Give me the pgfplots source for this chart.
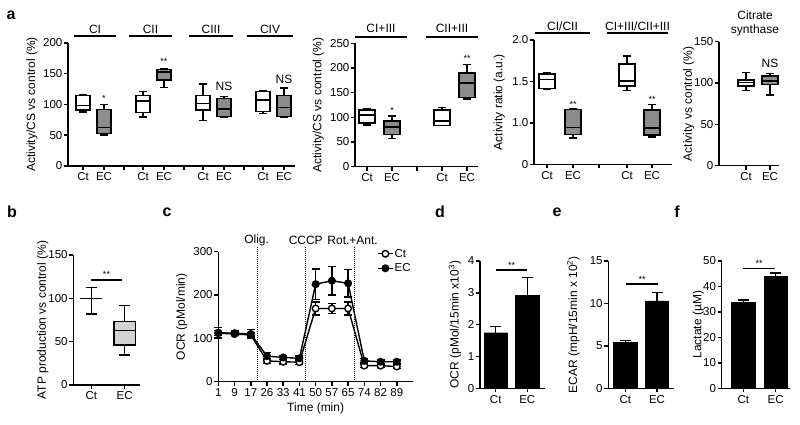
\documentclass[border=0pt]{standalone}
\usepackage{fontspec}
\setmainfont{Liberation Sans}
\usepackage{pgfplots}
\pgfplotsset{compat=1.18}
\usepgfplotslibrary{statistics}
\definecolor{boxgrey}{HTML}{8C8C8C}
\definecolor{boxlight}{HTML}{D2D2D2}
\newcommand{\tk}{\fontsize{11.5}{12}\selectfont}
\newcommand{\hd}{\fontsize{12}{13}\selectfont}
\newcommand{\lb}{\fontsize{12}{13}\selectfont}
\newcommand{\st}{\fontsize{9}{9}\selectfont}
\pgfplotsset{
  gp/.style={
    scale only axis, clip=false, anchor=south west,
    axis x line*=bottom, axis y line*=left,
    axis line style={line width=1.5pt,-},
    every tick/.style={line width=1.5pt,black},
    tick align=outside, major tick length=4pt,
    tick label style={font=\tk},
    yticklabel style={inner sep=1.5pt},
    xticklabel style={inner sep=2.5pt},
    label style={font=\lb},
    /pgf/number format/assume math mode=true,
    boxplot/draw direction=y,
  },
  yl/.style={ylabel style={at={(axis description cs:#1,0.5)},anchor=center}},
  bxw/.style={draw=black, fill=white, line width=1.5pt, solid},
  bxg/.style={draw=black, fill=boxgrey, line width=1.5pt, solid},
  bxl/.style={draw=black, fill=boxlight, line width=1.5pt, solid},
}
\begin{document}
\begin{tikzpicture}
\path[use as bounding box] (0,0) rectangle (800pt,425pt);

% ---------- a1 ----------
\begin{axis}[gp, at={(68pt,259pt)}, width=227pt, height=123pt,
  xmin=0, xmax=227, ymin=0, ymax=200, ytick={0,50,100,150,200},
  xtick={15,36,75,96,135,156,195,216}, xticklabels={Ct,EC,Ct,EC,Ct,EC,Ct,EC},
  extra x ticks={56,116,176}, extra x tick labels={},
  ylabel={Activity/CS vs control (\%)}, yl=-0.1586]
\addplot[bxw, boxplot prepared={draw position=15, lower whisker=88, lower quartile=91, median=98, upper quartile=115, upper whisker=116, box extend=14, whisker extend=8}] coordinates {};
\addplot[bxg, boxplot prepared={draw position=36, lower whisker=50, lower quartile=53, median=63, upper quartile=92, upper whisker=100, box extend=14, whisker extend=8}] coordinates {};
\addplot[bxw, boxplot prepared={draw position=75, lower whisker=80, lower quartile=87, median=106, upper quartile=115, upper whisker=121, box extend=14, whisker extend=8}] coordinates {};
\addplot[bxg, boxplot prepared={draw position=96, lower whisker=128, lower quartile=140, median=153, upper quartile=157, upper whisker=158, box extend=14, whisker extend=8}] coordinates {};
\addplot[bxw, boxplot prepared={draw position=135, lower whisker=74, lower quartile=91, median=102, upper quartile=115, upper whisker=133, box extend=14, whisker extend=8}] coordinates {};
\addplot[bxg, boxplot prepared={draw position=156, lower whisker=80, lower quartile=80.5, median=93, upper quartile=110, upper whisker=113, box extend=14, whisker extend=8}] coordinates {};
\addplot[bxw, boxplot prepared={draw position=195, lower whisker=85, lower quartile=89, median=107, upper quartile=121, upper whisker=122, box extend=14, whisker extend=8}] coordinates {};
\addplot[bxg, boxplot prepared={draw position=216, lower whisker=80, lower quartile=80.5, median=95, upper quartile=115, upper whisker=127, box extend=14, whisker extend=8}] coordinates {};
\draw[line width=1.7pt] (axis cs:6,211.4) -- (axis cs:48,211.4);
\draw[line width=1.7pt] (axis cs:61,211.4) -- (axis cs:104,211.4);
\draw[line width=1.7pt] (axis cs:121,211.4) -- (axis cs:165,211.4);
\draw[line width=1.7pt] (axis cs:179,211.4) -- (axis cs:225,211.4);
\node[font=\hd] at (axis cs:27,221.5) {CI};
\node[font=\hd] at (axis cs:82.5,221.5) {CII};
\node[font=\hd] at (axis cs:143,221.5) {CIII};
\node[font=\hd] at (axis cs:202,221.5) {CIV};
\node[font=\st] at (axis cs:36,110.6) {*};
\node[font=\st] at (axis cs:96,170.7) {**};
\node[font=\hd] at (axis cs:156,130) {NS};
\node[font=\hd] at (axis cs:216,141) {NS};
\end{axis}

% ---------- a2 ----------
\begin{axis}[gp, at={(355pt,258.3pt)}, width=123pt, height=123.4pt,
  xmin=0, xmax=123, ymin=0, ymax=250, ytick={0,50,100,150,200,250},
  xtick={12,37,87,112}, xticklabels={Ct,EC,Ct,EC},
  extra x ticks={62}, extra x tick labels={},
  ylabel={Activity/CS vs control (\%)}, yl=-0.298]
\addplot[bxw, boxplot prepared={draw position=12, lower whisker=84, lower quartile=89, median=105, upper quartile=115, upper whisker=118, box extend=16, whisker extend=8}] coordinates {};
\addplot[bxg, boxplot prepared={draw position=37, lower whisker=57, lower quartile=65, median=80, upper quartile=93, upper whisker=103, box extend=16, whisker extend=8}] coordinates {};
\addplot[bxw, boxplot prepared={draw position=87, lower whisker=83, lower quartile=83.5, median=93, upper quartile=115, upper whisker=120, box extend=16, whisker extend=8}] coordinates {};
\addplot[bxg, boxplot prepared={draw position=112, lower whisker=137, lower quartile=140, median=170, upper quartile=190, upper whisker=207, box extend=16, whisker extend=8}] coordinates {};
\draw[line width=1.7pt] (axis cs:0,263.4) -- (axis cs:52,263.4);
\draw[line width=1.7pt] (axis cs:71,263.4) -- (axis cs:123,263.4);
\node[font=\hd] at (axis cs:26,281) {CI+III};
\node[font=\hd] at (axis cs:97,281) {CII+III};
\node[font=\st] at (axis cs:37,115) {*};
\node[font=\st] at (axis cs:112,220) {**};
\end{axis}

% ---------- a3 ----------
\begin{axis}[gp, at={(534pt,260.7pt)}, width=138pt, height=124.3pt,
  xmin=0, xmax=138, ymin=0.5, ymax=2.0, ytick={0.5,1,1.5,2}, yticklabels={0,1.0,1.5,2.0},
  xtick={13,39,93,118}, xticklabels={Ct,EC,Ct,EC},
  extra x ticks={65}, extra x tick labels={},
  ylabel={Activity ratio (a.u.)}, yl=-0.2514]
\addplot[bxw, boxplot prepared={draw position=13, lower whisker=1.405, lower quartile=1.417, median=1.525, upper quartile=1.59, upper whisker=1.6, box extend=16, whisker extend=8}] coordinates {};
\addplot[bxg, boxplot prepared={draw position=39, lower whisker=0.82, lower quartile=0.862, median=0.946, upper quartile=1.163, upper whisker=1.165, box extend=16, whisker extend=8}] coordinates {};
\addplot[bxw, boxplot prepared={draw position=93, lower whisker=1.39, lower quartile=1.445, median=1.505, upper quartile=1.71, upper whisker=1.806, box extend=16, whisker extend=8}] coordinates {};
\addplot[bxg, boxplot prepared={draw position=118, lower whisker=0.83, lower quartile=0.853, median=0.94, upper quartile=1.155, upper whisker=1.224, box extend=16, whisker extend=8}] coordinates {};
\draw[line width=1.7pt] (axis cs:1,2.084) -- (axis cs:56,2.084);
\draw[line width=1.7pt] (axis cs:73,2.084) -- (axis cs:134,2.084);
\node[font=\hd] at (axis cs:28.5,2.168) {CI/CII};
\node[font=\hd] at (axis cs:103.5,2.168) {CI+III/CII+III};
\node[font=\st] at (axis cs:39,1.227) {**};
\node[font=\st] at (axis cs:118,1.288) {**};
\end{axis}

% ---------- a4 ----------
\begin{axis}[gp, at={(719pt,259.3pt)}, width=60.3pt, height=124pt,
  xmin=0, xmax=60.3, ymin=0, ymax=150, ytick={0,50,100,150},
  xtick={27,51}, xticklabels={Ct,EC},
  ylabel={Activity vs control (\%)}, yl=-0.5]
\addplot[bxw, boxplot prepared={draw position=27, lower whisker=90.7, lower quartile=96.4, median=100.4, upper quartile=103.6, upper whisker=113, box extend=16, whisker extend=8}] coordinates {};
\addplot[bxg, boxplot prepared={draw position=51, lower whisker=85.5, lower quartile=98.4, median=102.4, upper quartile=108.5, upper whisker=111.7, box extend=16, whisker extend=8}] coordinates {};
\node[font=\fontsize{12}{14}\selectfont, align=center] at (axis cs:36,172.5) {Citrate\\synthase};
\node[font=\hd] at (axis cs:51,124) {NS};
\end{axis}

% ---------- b ----------
\begin{axis}[gp, at={(73.3pt,40pt)}, width=66.7pt, height=130pt,
  xmin=0, xmax=66.7, ymin=0, ymax=150, ytick={0,50,100,150},
  xtick={18,51.3}, xticklabels={Ct,EC},
  ylabel={ATP production vs control (\%)}, yl=-0.459]
\addplot[bxw, boxplot prepared={draw position=18, lower whisker=82, lower quartile=100, median=100, upper quartile=100, upper whisker=112.7, box extend=21.7, whisker extend=10.7}] coordinates {};
\addplot[bxl, boxplot prepared={draw position=51.3, lower whisker=34.6, lower quartile=46, median=62.7, upper quartile=73, upper whisker=92, box extend=21.7, whisker extend=10.7}] coordinates {};
\draw[line width=1.7pt] (axis cs:17.4,121) -- (axis cs:49,121);
\node[font=\st] at (axis cs:33.2,127.7) {**};
\end{axis}

% ---------- c ----------
\begin{axis}[gp, at={(218.3pt,43.3pt)}, width=194.7pt, height=130pt,
  xmin=0, xmax=12, ymin=0, ymax=300, ytick={0,100,200,300},
  xtick={0,1,2,3,4,5,6,7,8,9,10,11},
  xticklabels={1,9,17,26,33,41,50,57,65,74,82,89},
  xlabel={Time (min)}, ylabel={OCR (pMol/min)}, yl=-0.188,
  legend style={draw=none, fill=none, at={(0.815,1.03)}, anchor=north west,
    font=\tk, inner sep=0pt, row sep=3pt, nodes={inner sep=1pt}},
  legend cell align=left,
  legend image code/.code={\draw[mark repeat=2,mark phase=2,#1] plot coordinates {(0pt,0pt) (7.5pt,0pt) (15pt,0pt)};}]
\draw[densely dotted, line width=1pt] (axis cs:2.4,0) -- (axis cs:2.4,311);
\draw[densely dotted, line width=1pt] (axis cs:5.39,0) -- (axis cs:5.39,311);
\draw[densely dotted, line width=1pt] (axis cs:8.4,0) -- (axis cs:8.4,311);
\node[font=\hd] at (axis cs:2.36,325) {Olig.};
\node[font=\hd] at (axis cs:5.39,325) {CCCP};
\node[font=\hd] at (axis cs:8.28,325) {Rot.+Ant.};
\addplot[black, line width=1.4pt, mark=*, mark size=3.3pt, mark options={fill=white, solid},
  error bars/.cd, y dir=both, y explicit, error bar style={line width=1.4pt},
  error mark options={line width=1.4pt, mark size=4pt, rotate=90}]
  table[x=i, y=v, y error=e] {
i v e
0 112 6
1 110 4
2 108 5
3 48 6
4 46 5
5 45 5
6 169 15
7 169 12
8 169 15
9 37 4
10 37 4
11 35 4
};
\addlegendentry{Ct}
\addplot[black, line width=1.4pt, mark=*, mark size=3.3pt, mark options={fill=black, solid},
  error bars/.cd, y dir=both, y explicit, error bar style={line width=1.4pt},
  error mark options={line width=1.4pt, mark size=4pt, rotate=90}]
  table[x=i, y=v, y error=e] {
i v e
0 113 12
1 112 5
2 110 11
3 59 8
4 56 5
5 54 5
6 225 35
7 233 33
8 227 32
9 48 5
10 46 4
11 46 4
};
\addlegendentry{EC}
\end{axis}

% ---------- d ----------
\begin{axis}[gp, at={(480pt,36.5pt)}, width=65pt, height=127.5pt,
  xmin=0, xmax=65, ymin=0, ymax=4, ytick={0,1,2,3,4},
  xtick={15.7,47.3}, xticklabels={Ct,EC},
  ylabel={OCR (pMol/15min x10\textsuperscript{3})}, yl=-0.385]
\addplot[ybar, bar width=23.3pt, fill=black, draw=black,
  error bars/.cd, y dir=plus, y explicit, error bar style={line width=1.5pt},
  error mark options={line width=1.5pt, mark size=5.5pt, rotate=90}]
  coordinates {(15.7,1.75) +- (0,0.2) (47.3,2.93) +- (0,0.56)};
\draw[line width=1.7pt] (axis cs:15.7,3.71) -- (axis cs:47.3,3.71);
\node[font=\st] at (axis cs:31.5,3.87) {**};
\end{axis}

% ---------- e ----------
\begin{axis}[gp, at={(608.3pt,36.5pt)}, width=65.7pt, height=127.5pt,
  xmin=0, xmax=65.7, ymin=0, ymax=15, ytick={0,5,10,15},
  xtick={17,48.7}, xticklabels={Ct,EC},
  ylabel={ECAR (mpH/15min x 10\textsuperscript{2})}, yl=-0.533]
\addplot[ybar, bar width=23.3pt, fill=black, draw=black,
  error bars/.cd, y dir=plus, y explicit, error bar style={line width=1.5pt},
  error mark options={line width=1.5pt, mark size=5.5pt, rotate=90}]
  coordinates {(17,5.4) +- (0,0.27) (48.7,10.3) +- (0,1.0)};
\draw[line width=1.7pt] (axis cs:17.7,12.29) -- (axis cs:50,12.29);
\node[font=\st] at (axis cs:33.8,12.88) {**};
\end{axis}

% ---------- f ----------
\begin{axis}[gp, at={(721.7pt,36.5pt)}, width=68.3pt, height=127.5pt,
  xmin=0, xmax=68.3, ymin=0, ymax=50, ytick={0,10,20,30,40,50},
  xtick={21.6,54}, xticklabels={Ct,EC},
  ylabel={Lactate (\textmu M)}, yl=-0.343]
\addplot[ybar, bar width=23.3pt, fill=black, draw=black,
  error bars/.cd, y dir=plus, y explicit, error bar style={line width=1.5pt},
  error mark options={line width=1.5pt, mark size=5.5pt, rotate=90}]
  coordinates {(21.6,33.8) +- (0,1.0) (54,44.0) +- (0,1.3)};
\draw[line width=1.7pt] (axis cs:21.6,47.1) -- (axis cs:53.3,47.1);
\node[font=\st] at (axis cs:37.5,49.2) {**};
\end{axis}

% panel letters
\node[font=\bfseries\fontsize{16}{16}\selectfont] at (11pt,410pt) {a};
\node[font=\bfseries\fontsize{16}{16}\selectfont] at (12pt,213pt) {b};
\node[font=\bfseries\fontsize{16}{16}\selectfont] at (167pt,213pt) {c};
\node[font=\bfseries\fontsize{16}{16}\selectfont] at (440pt,213pt) {d};
\node[font=\bfseries\fontsize{16}{16}\selectfont] at (557pt,213pt) {e};
\node[font=\bfseries\fontsize{16}{16}\selectfont] at (677pt,213pt) {f};
\end{tikzpicture}
\end{document}
